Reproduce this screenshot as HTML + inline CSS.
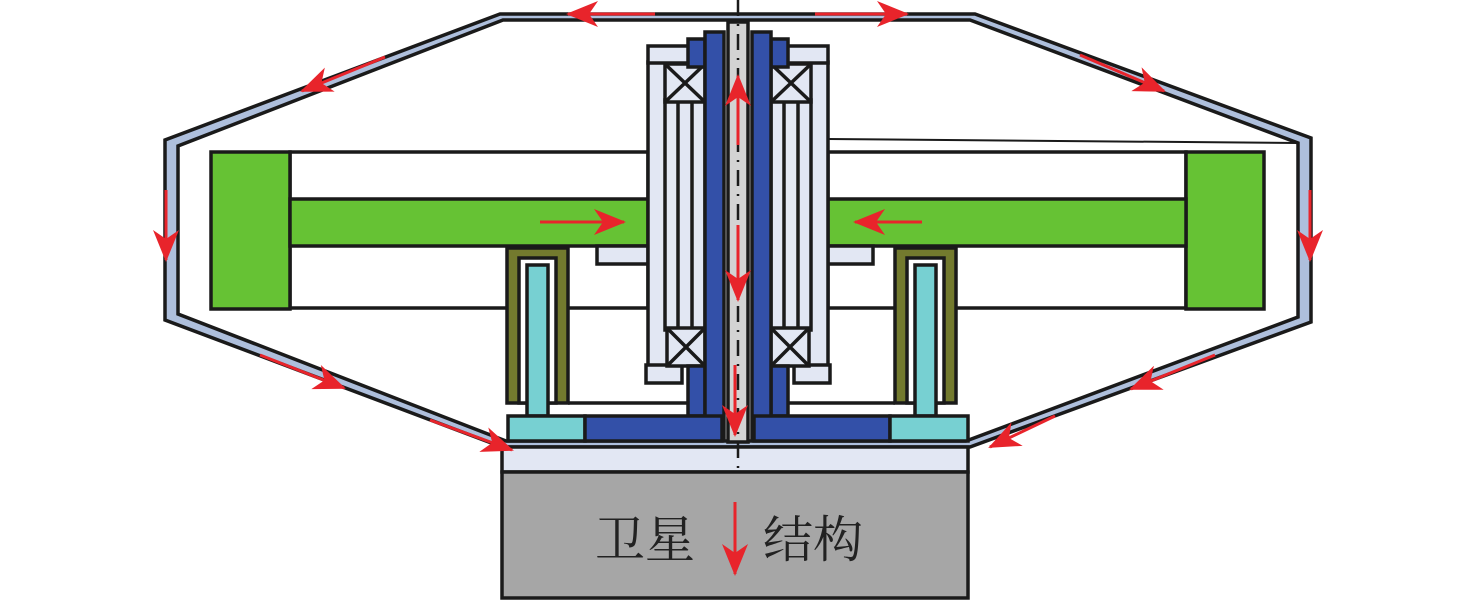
<!DOCTYPE html>
<html><head><meta charset="utf-8"><style>
html,body{margin:0;padding:0;background:#fff;width:1476px;height:600px;overflow:hidden}
svg{display:block}
text{font-family:"Liberation Serif","Noto Serif CJK SC",serif}
</style></head><body>
<svg width="1476" height="600" viewBox="0 0 1476 600" xmlns="http://www.w3.org/2000/svg">
<defs>
<marker id="ah" viewBox="0 0 32 26" refX="30" refY="13" markerWidth="32" markerHeight="26" markerUnits="userSpaceOnUse" orient="auto">
<path d="M0,0 L32,13 L0,26 L9,13 Z" fill="#e8242b"/>
</marker>
</defs>
<g stroke="#1a1a1a" stroke-width="3.5">
<polygon points="500,14 975,14 1311,138 1311,322 970,447 502,447 165,320 165,140" fill="#aebfdc"/>
<polygon points="503,20 970,20 1298,143 1298,317 966,441 506,441 178,314 178,146" fill="#fff"/>
<line x1="828" y1="139" x2="1298" y2="143" stroke-width="2"/>
<rect x="290" y="152" width="358" height="156" fill="#fff"/>
<rect x="211" y="152" width="79" height="157" fill="#66c234"/>
<rect x="290" y="199" width="358" height="47" fill="#66c234"/>
<rect x="828" y="152" width="358" height="156" fill="#fff"/>
<rect x="1186" y="152" width="78" height="157" fill="#66c234"/>
<rect x="828" y="199" width="358" height="47" fill="#66c234"/>
<rect x="597" y="246" width="51" height="18" fill="#e2e7f3"/>
<rect x="828" y="246" width="45" height="18" fill="#e2e7f3"/>
<rect x="507" y="248" width="61" height="155" fill="#737a2e"/>
<rect x="519" y="258" width="37" height="145" fill="#fff"/>
<rect x="527" y="265" width="21" height="151" fill="#77d0d2"/>
<rect x="895" y="248" width="61" height="155" fill="#737a2e"/>
<rect x="907" y="258" width="37" height="145" fill="#fff"/>
<rect x="915" y="265" width="21" height="151" fill="#77d0d2"/>
<line x1="568" y1="403" x2="690" y2="403"/>
<line x1="788" y1="403" x2="895" y2="403"/>
<rect x="648" y="62" width="32" height="308" fill="#e2e7f3"/>
<rect x="648" y="46" width="52" height="17" fill="#e2e7f3"/>
<rect x="646" y="365" width="36" height="18" fill="#e2e7f3"/>
<rect x="665" y="100" width="40" height="230" fill="#e2e7f3"/>
<line x1="678" y1="100" x2="678" y2="330"/>
<line x1="692" y1="100" x2="692" y2="330"/>
<rect x="665" y="64" width="40" height="38" fill="#e2e7f3"/>
<path d="M665,64 L705,102 M705,64 L665,102"/>
<rect x="667" y="328" width="38" height="38" fill="#e2e7f3"/>
<path d="M667,328 L705,366 M705,328 L667,366"/>
<rect x="796" y="62" width="32" height="308" fill="#e2e7f3"/>
<rect x="776" y="46" width="52" height="17" fill="#e2e7f3"/>
<rect x="794" y="365" width="36" height="18" fill="#e2e7f3"/>
<rect x="771" y="100" width="40" height="230" fill="#e2e7f3"/>
<line x1="784" y1="100" x2="784" y2="330"/>
<line x1="798" y1="100" x2="798" y2="330"/>
<rect x="771" y="64" width="40" height="38" fill="#e2e7f3"/>
<path d="M771,64 L811,102 M811,64 L771,102"/>
<rect x="771" y="328" width="38" height="38" fill="#e2e7f3"/>
<path d="M771,328 L809,366 M809,328 L771,366"/>
<rect x="688" y="39" width="17" height="28" fill="#3350a8"/>
<rect x="688" y="366" width="17" height="50" fill="#3350a8"/>
<rect x="705" y="32" width="19" height="408" fill="#3350a8"/>
<rect x="771" y="39" width="17" height="28" fill="#3350a8"/>
<rect x="771" y="366" width="17" height="50" fill="#3350a8"/>
<rect x="752" y="32" width="19" height="408" fill="#3350a8"/>
<rect x="728" y="22" width="20" height="420" fill="#d3d3d3"/>
<rect x="508" y="416" width="77" height="25" fill="#77d0d2"/>
<rect x="585" y="416" width="137" height="25" fill="#3350a8"/>
<rect x="754" y="416" width="136" height="25" fill="#3350a8"/>
<rect x="890" y="416" width="78" height="25" fill="#77d0d2"/>
<rect x="502" y="447" width="466" height="25" fill="#e2e7f3"/>
<rect x="502" y="472" width="466" height="126" fill="#a6a6a6"/>
</g>
<line x1="738" y1="0" x2="738" y2="470" stroke="#1a1a1a" stroke-width="2.5" stroke-dasharray="16,8,2,8"/>
<g stroke="#e8242b" stroke-width="3" fill="none" marker-end="url(#ah)">
<line x1="655" y1="14" x2="568" y2="14"/>
<line x1="815" y1="14" x2="907" y2="14"/>
<line x1="385" y1="57" x2="302" y2="91"/>
<line x1="1080" y1="55" x2="1164" y2="91"/>
<line x1="166" y1="190" x2="166" y2="260"/>
<line x1="1310" y1="190" x2="1310" y2="260"/>
<line x1="260" y1="355" x2="344" y2="388"/>
<line x1="430" y1="420" x2="512" y2="450"/>
<line x1="1215" y1="355" x2="1131" y2="389"/>
<line x1="1055" y1="416" x2="990" y2="447"/>
<line x1="540" y1="222" x2="624" y2="222"/>
<line x1="922" y1="222" x2="855" y2="222"/>
<line x1="738" y1="145" x2="738" y2="76"/>
<line x1="738" y1="225" x2="738" y2="300"/>
<line x1="735" y1="365" x2="735" y2="435"/>
<line x1="735" y1="502" x2="735" y2="574"/>
</g>
<text x="595" y="557" font-size="50" fill="#222">卫星</text>
<text x="763" y="557" font-size="50" fill="#222">结构</text>
</svg>
</body></html>
